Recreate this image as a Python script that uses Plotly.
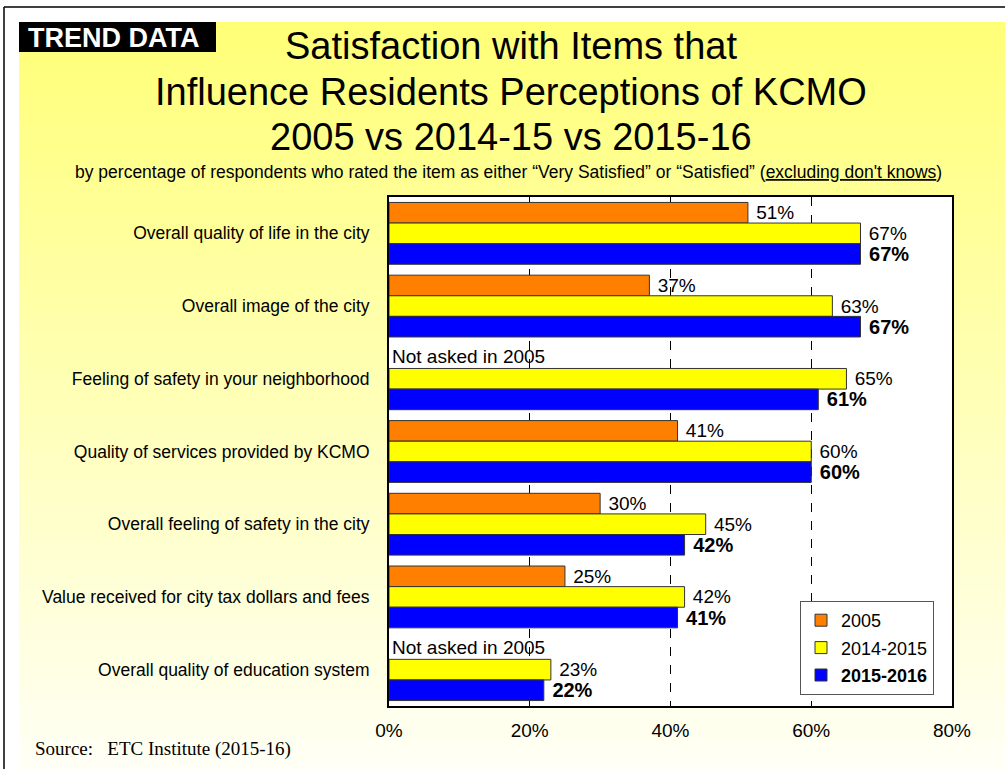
import plotly.graph_objects as go

# Survey items (top to bottom) and percent satisfied by survey year
categories = [
    "Overall quality of life in the city",
    "Overall image of the city",
    "Feeling of safety in your neighborhood",
    "Quality of services provided by KCMO",
    "Overall feeling of safety in the city",
    "Value received for city tax dollars and fees",
    "Overall quality of education system",
]
pct_2005 = [51, 37, None, 41, 30, 25, None]
pct_2014_15 = [67, 63, 65, 60, 45, 42, 23]
pct_2015_16 = [67, 67, 61, 60, 42, 41, 22]
x_ticks = [0, 20, 40, 60, 80]
x_tick_labels = [f"{t}%" for t in x_ticks]
not_asked_note = "Not asked in 2005"

W, H = 1005, 769
L, R, T, B = 389, 952, 197, 706  # plot area in pixels

def xp(px):
    return (px - L) / (R - L)

def yp(py):
    return (B - py) / (B - T)

FONT = "Arial, Liberation Sans, sans-serif"

def labels(vals, bold=False):
    out = []
    for v in vals:
        if v is None:
            out.append("")
        else:
            s = f" {v}%"
            out.append(f"<b>{s}</b>" if bold else s)
    return out

fig = go.Figure()
series = [
    ("2005", pct_2005, "#FF8000", False),
    ("2014-2015", pct_2014_15, "#FFFF00", False),
    ("<b>2015-2016</b>", pct_2015_16, "#0000FF", True),
]
for i, (name, vals, color, bold) in enumerate(series):
    fig.add_trace(go.Bar(
        y=categories, x=vals, orientation="h", name=name,
        marker=dict(color=color, line=dict(color="#333333", width=1)),
        text=labels(vals, bold), textposition="outside",
        textfont=dict(family=FONT, size=20 if bold else 19, color="black"),
        constraintext="none", cliponaxis=False,
        legendgroup=f"g{i}",
    ))

shapes = []
# soft vertical yellow gradient behind the slide
top_y, bot_y, n = 22, H, 75
c0, c1 = 120, 245
for k in range(n):
    y0 = top_y + (bot_y - top_y) * k / n
    y1 = top_y + (bot_y - top_y) * (k + 1) / n + 0.6
    b = round(c0 + (c1 - c0) * k / (n - 1))
    shapes.append(dict(type="rect", xref="paper", yref="paper",
                       x0=xp(19), x1=xp(W + 5), y0=yp(y1), y1=yp(y0),
                       fillcolor=f"rgb(255,255,{b})", line=dict(width=0),
                       layer="below"))
# white plotting area
shapes.append(dict(type="rect", xref="paper", yref="paper", x0=0, x1=1, y0=0, y1=1,
                   fillcolor="white", line=dict(width=0), layer="below"))
# slide frame
shapes.append(dict(type="line", xref="paper", yref="paper", x0=xp(4), x1=xp(4),
                   y0=yp(7), y1=yp(H + 5), line=dict(color="black", width=1.5)))
shapes.append(dict(type="line", xref="paper", yref="paper", x0=xp(4), x1=xp(W + 5),
                   y0=yp(7), y1=yp(7), line=dict(color="black", width=1.5)))
# badge
shapes.append(dict(type="rect", xref="paper", yref="paper", x0=xp(19), x1=xp(216),
                   y0=yp(52), y1=yp(22), fillcolor="black", line=dict(width=0)))

def text_note(text, px, py, size, anchor="center", family=FONT, color="black"):
    return dict(text=text, x=xp(px), y=yp(py), xref="paper", yref="paper",
                xanchor=anchor, yanchor="middle", showarrow=False,
                font=dict(family=family, size=size, color=color))

annotations = [
    text_note("<b>TREND DATA</b>", 113, 38, 27, color="white"),
    text_note("Satisfaction with Items that", 511, 46, 38),
    text_note("Influence Residents Perceptions of KCMO", 511, 92, 38),
    text_note("2005 vs 2014-15 vs 2015-16", 511, 137, 38),
    text_note("by percentage of respondents who rated the item as either \u201cVery Satisfied\u201d "
              "or \u201cSatisfied\u201d (<span style='text-decoration:underline'>excluding don't knows</span>)",
              508, 172, 17.5),
    text_note("Source:   ETC Institute (2015-16)", 33, 749, 19, anchor="left",
              family="Liberation Serif, Times New Roman, serif"),
]
for cat, v in zip(categories, pct_2005):
    if v is None:
        annotations.append(dict(text=not_asked_note, x=0, y=cat, xref="x", yref="y",
                                xanchor="left", yshift=22, xshift=1, showarrow=False,
                                font=dict(family=FONT, size=19, color="black")))

fig.update_layout(
    width=W, height=H,
    margin=dict(l=L, r=W - R, t=T, b=H - B, pad=0),
    paper_bgcolor="white", plot_bgcolor="white",
    barmode="group", bargap=0.15, bargroupgap=0,
    shapes=shapes, annotations=annotations,
    showlegend=True,
    legend=dict(x=xp(800), y=yp(601), xanchor="left", yanchor="top",
                bgcolor="white", bordercolor="#555555", borderwidth=1,
                font=dict(family=FONT, size=18, color="black"),
                traceorder="grouped", tracegroupgap=1, itemwidth=30),
    xaxis=dict(range=[0, 80], tickvals=x_ticks, ticktext=x_tick_labels,
               showgrid=True, gridcolor="black", griddash="dash", gridwidth=1,
               zeroline=False, showline=True, mirror=True, linecolor="black", linewidth=2,
               ticks="outside", ticklen=6, tickcolor="rgba(0,0,0,0)",
               tickfont=dict(family=FONT, size=19, color="black")),
    yaxis=dict(type="category", autorange="reversed", showgrid=False,
               showline=True, mirror=True, linecolor="black", linewidth=2,
               ticks="outside", ticklen=14, tickcolor="rgba(0,0,0,0)",
               tickfont=dict(family=FONT, size=17.5, color="black")),
)

fig.write_html("out.html")
